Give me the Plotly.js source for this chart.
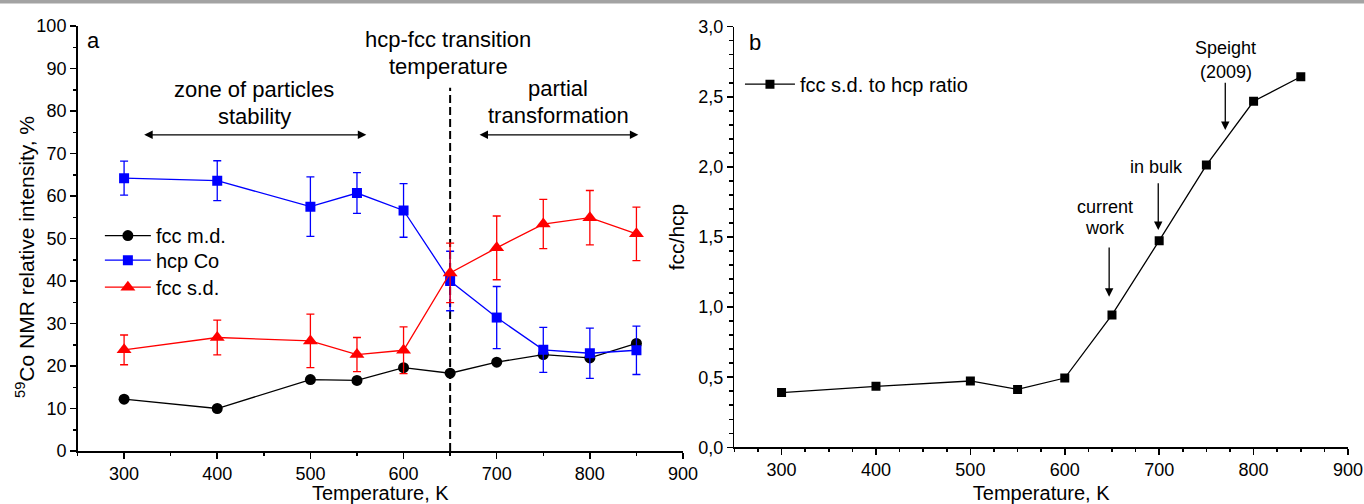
<!DOCTYPE html>
<html>
<head>
<meta charset="utf-8">
<script src="https://cdn.plot.ly/plotly-3.0.1.min.js"></script>
<style>html,body{margin:0;padding:0;background:#fff;}#chart{width:1364px;height:504px;}</style>
</head>
<body>
<div id="chart"></div>
<script>
// ---- data ----
const temperatures = [300, 400, 500, 550, 600, 650, 700, 750, 800, 850];
const fccMd = [12.2, 10.0, 16.8, 16.6, 19.6, 18.3, 20.9, 22.7, 21.9, 25.3];
const hcpCo = [64.2, 63.6, 57.5, 60.7, 56.6, 40.0, 31.4, 23.8, 23.0, 23.7];
const hcpCoErr = [4.0, 4.7, 7.0, 4.8, 6.3, 7.0, 7.3, 5.3, 5.9, 5.7];
const fccSd = [23.8, 26.7, 25.9, 22.7, 23.7, 41.9, 47.8, 53.4, 54.9, 51.1];
const fccSdErr = [3.5, 4.1, 6.3, 4.0, 5.5, 7.0, 7.5, 5.8, 6.4, 6.3];
const ratio = [0.39, 0.435, 0.473, 0.413, 0.494, 0.944, 1.474, 2.013, 2.468, 2.643];

const seriesNames = ['fcc m.d.', 'hcp Co', 'fcc s.d.'];
const ratioName = 'fcc s.d. to hcp ratio';
const xTitle = 'Temperature, K';
const yTitleA = '<sup>59</sup>Co NMR relative intensity, %';
const yTitleB = 'fcc/hcp';
const transitionT = 650;

const FONT = 'Arial, "Liberation Sans", sans-serif';

const traces = [
  {x: temperatures, y: fccMd, name: seriesNames[0], type: 'scatter', mode: 'lines+markers',
   xaxis: 'x', yaxis: 'y', legend: 'legend',
   line: {color: '#000000', width: 1.3}, marker: {symbol: 'circle', size: 11, color: '#000000'}},
  {x: temperatures, y: hcpCo, name: seriesNames[1], type: 'scatter', mode: 'lines+markers',
   xaxis: 'x', yaxis: 'y', legend: 'legend3',
   error_y: {type: 'data', array: hcpCoErr, visible: true, color: '#0000ff', thickness: 1.3, width: 4},
   line: {color: '#0000ff', width: 1.3}, marker: {symbol: 'square', size: 10, color: '#0000ff'}},
  {x: temperatures, y: fccSd, name: seriesNames[2], type: 'scatter', mode: 'lines+markers',
   xaxis: 'x', yaxis: 'y', legend: 'legend4',
   error_y: {type: 'data', array: fccSdErr, visible: true, color: '#ff0000', thickness: 1.3, width: 4},
   line: {color: '#ff0000', width: 1.3}, marker: {symbol: 'triangle-up', size: 13, color: '#ff0000'}},
  {x: temperatures, y: ratio, name: ratioName, type: 'scatter', mode: 'lines+markers',
   xaxis: 'x2', yaxis: 'y2', legend: 'legend2',
   line: {color: '#000000', width: 1.3}, marker: {symbol: 'square', size: 9, color: '#000000'}}
];

const tickFont = {family: FONT, size: 18, color: '#000'};
const titleFont = {family: FONT, size: 21, color: '#000'};
const xTitleFont = {family: FONT, size: 20, color: '#000'};

function axisBase() {
  return {showline: true, linecolor: '#000', linewidth: 1.5, ticks: 'outside', ticklen: 6,
          tickwidth: 1.5, tickcolor: '#000', showgrid: false, zeroline: false,
          tickfont: tickFont, automargin: false, fixedrange: true};
}

const xaxis = Object.assign(axisBase(), {
  domain: [0.0004, 0.4768], range: [250, 900], tick0: 300, dtick: 100, anchor: 'y',
  minor: {ticks: 'outside', ticklen: 3.5, tickwidth: 1.5, tickcolor: '#000', dtick: 50, tick0: 250},
  title: {text: xTitle, font: xTitleFont, standoff: 7}
});
const yaxis = Object.assign(axisBase(), {
  domain: [0, 1], range: [0, 100], tick0: 0, dtick: 10, anchor: 'x',
  minor: {ticks: 'outside', ticklen: 3.5, tickwidth: 1.5, tickcolor: '#000', dtick: 5}
});
const xaxis2 = Object.assign(axisBase(), {
  domain: [0.5172, 1], range: [250, 900], tick0: 300, dtick: 100, anchor: 'y2',
  minor: {ticks: 'outside', ticklen: 3.5, tickwidth: 1.5, tickcolor: '#000', dtick: 25, tick0: 250},
  title: {text: xTitle, font: xTitleFont, standoff: 7}
});
const yaxis2 = Object.assign(axisBase(), {
  domain: [0.0087, 0.9984], range: [0, 3], tick0: 0, dtick: 0.5, tickformat: '.1f', anchor: 'x2',
  minor: {ticks: 'outside', ticklen: 3.5, tickwidth: 1.5, tickcolor: '#000', dtick: 0.1},
  title: {text: yTitleB, font: titleFont, standoff: 8}
});

function txt(text, x, y, size, xref, yref) {
  return {text: text, x: x, y: y, xref: xref || 'x', yref: yref || 'y', showarrow: false,
          font: {family: FONT, size: size, color: '#000'}, xanchor: 'center', yanchor: 'middle'};
}
function arrow(x0, y0, x1, y1, xref, yref, both) {
  const a = {text: '', x: x1, y: y1, ax: x0, ay: y0, xref: xref, yref: yref, axref: xref, ayref: yref,
             showarrow: true, arrowhead: 2, arrowsize: 1.3, arrowwidth: 1.3, arrowcolor: '#000', standoff: 0, startstandoff: 0};
  if (both) { a.arrowside = 'end+start'; a.startarrowhead = 2; a.startarrowsize = 1.3; }
  return a;
}

const yTitleAnn = {text: yTitleA, xref: 'paper', yref: 'paper', x: -0.0409, y: 0.4565,
  textangle: -90, showarrow: false, xanchor: 'center', yanchor: 'middle',
  font: {family: FONT, size: 21, color: '#000'}};

const annotations = [
  yTitleAnn,
  txt('a', 267, 96.6, 22),
  txt('hcp-fcc transition', 648, 96.8, 22),
  txt('temperature', 648, 90.4, 22),
  txt('zone of particles', 440, 85.1, 22),
  txt('stability', 440, 78.8, 22),
  txt('partial', 766, 85.3, 22),
  txt('transformation', 766, 79.0, 22),
  arrow(320, 74.4, 560, 74.4, 'x', 'y', true),
  arrow(680, 74.4, 852, 74.4, 'x', 'y', true),
  txt('b', 272, 2.885, 22, 'x2', 'y2'),
  txt('Speight', 770.6, 2.85, 18, 'x2', 'y2'),
  txt('(2009)', 770.6, 2.68, 18, 'x2', 'y2'),
  arrow(770, 2.61, 770, 2.263, 'x2', 'y2', false),
  txt('in bulk', 697.4, 2.0, 18, 'x2', 'y2'),
  arrow(699, 1.894, 699, 1.55, 'x2', 'y2', false),
  txt('current', 642.7, 1.716, 18, 'x2', 'y2'),
  txt('work', 642.7, 1.562, 18, 'x2', 'y2'),
  arrow(647, 1.436, 647, 1.074, 'x2', 'y2', false)
];

const shapes = [
  {type: 'line', xref: 'x', yref: 'y', x0: transitionT, x1: transitionT, y0: 0, y1: 85.5,
   layer: 'below', line: {color: '#000', width: 2, dash: '8px,4px'}},
  {type: 'rect', xref: 'paper', yref: 'paper', x0: -0.0606, x1: 1.0126, y0: 1.0529, y1: 1.0612,
   fillcolor: '#a3a3a3', line: {width: 0}}
];

function legendAt(y, itemwidth) {
  return {x: 0.018, y: y, xanchor: 'left', yanchor: 'top', bgcolor: 'rgba(0,0,0,0)',
          font: {family: FONT, size: 20, color: '#000'}, itemwidth: itemwidth};
}

const layout = {
  width: 1364, height: 504,
  margin: {l: 77, r: 16, t: 26, b: 53, pad: 0},
  paper_bgcolor: '#fff', plot_bgcolor: 'rgba(0,0,0,0)',
  font: {family: FONT, color: '#000'},
  separators: ',.',
  showlegend: true,
  xaxis: xaxis, yaxis: yaxis, xaxis2: xaxis2, yaxis2: yaxis2,
  legend: legendAt(0.5527, 46),
  legend3: legendAt(0.4948, 46),
  legend4: legendAt(0.4313, 46),
  legend2: {x: 0.5216, y: 0.909, xanchor: 'left', yanchor: 'top', bgcolor: 'rgba(0,0,0,0)',
            font: {family: FONT, size: 20, color: '#000'}, itemwidth: 50},
  annotations: annotations,
  shapes: shapes
};

Plotly.newPlot('chart', traces, layout, {displayModeBar: false, staticPlot: true});
</script>
</body>
</html>
